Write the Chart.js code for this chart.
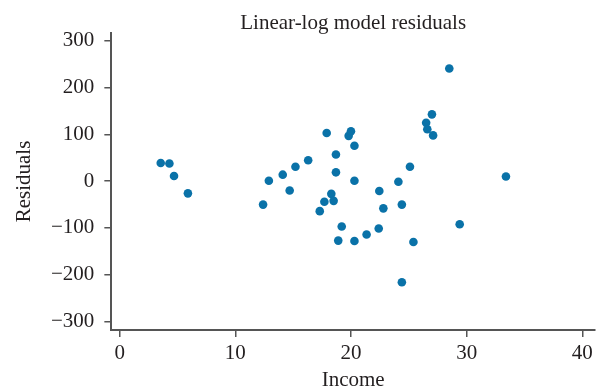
<!DOCTYPE html>
<html>
<head>
<meta charset="utf-8">
<script src="https://cdn.jsdelivr.net/npm/chart.js@4/dist/chart.umd.min.js"></script>
<style>
  html, body { margin: 0; padding: 0; background: #fff; }
  #wrap { width: 602px; height: 391px; }
</style>
</head>
<body>
<div id="wrap"><canvas id="residChart"></canvas></div>
<script>
// data
const income = [3.55, 4.3, 4.7, 5.9, 12.4, 12.9, 14.1, 14.7, 15.2, 16.3,
    17.3, 17.7, 17.9, 18.3, 18.5, 18.7, 18.7, 18.9, 19.2, 19.8,
    20.0, 20.3, 20.3, 20.3, 21.35, 22.4, 22.45, 22.8, 24.1, 24.4,
    24.4, 25.1, 25.4, 26.5, 26.6, 27.0, 27.1, 28.5, 29.4, 33.4];
const residuals = [39, 38, 11, -26, -50, 1, 14, -20, 31, 45,
    -64, -44, 103, -27, -42, 57, 19, -127, -97, 97,
    107, 76, 1, -128, -114, -101, -21, -58, -1, -50,
    -216, 31, -130, 125, 111, 143, 98, 241, -92, 10];
const xTicks = [0, 10, 20, 30, 40];
const yTicks = [-300, -200, -100, 0, 100, 200, 300];

const chartTitle = 'Linear-log model residuals';
const serif = "'Liberation Serif', 'DejaVu Serif', serif";
const inkColor = '#231f20';
const axisColor = '#555';

function fixTicks(values) {
    return function(axis) {
        axis.ticks = values.map(v => ({ value: v }));
    };
}

// real minus sign like the print original
function minusLabel(value) {
    return value < 0 ? '\u2212' + Math.abs(value) : String(value);
}

// title centred over the plot area rather than the whole canvas
const plotTitle = {
    id: 'plotTitle',
    afterDraw(chart) {
        const { ctx, chartArea } = chart;
        ctx.save();
        ctx.font = '21px ' + serif;
        ctx.fillStyle = inkColor;
        ctx.textAlign = 'center';
        ctx.textBaseline = 'alphabetic';
        ctx.fillText(chartTitle, (chartArea.left + chartArea.right) / 2, 29);
        ctx.restore();
    }
};

function initializeChart() {
    const points = income.map((x, i) => ({ x: x, y: residuals[i] }));
    const ctx = document.getElementById('residChart').getContext('2d');

    new Chart(ctx, {
        type: 'scatter',
        data: {
            datasets: [{
                data: points,
                backgroundColor: '#0a72a8',
                borderWidth: 0,
                pointRadius: 4.3,
                pointHoverRadius: 4.3
            }]
        },
        plugins: [plotTitle],
        options: {
            responsive: true,
            maintainAspectRatio: false,
            animation: false,
            layout: { padding: { left: 0, right: 7, top: 33, bottom: 0 } },
            plugins: {
                legend: { display: false },
                tooltip: { enabled: false },
                title: { display: false }
            },
            scales: {
                x: {
                    type: 'linear',
                    min: -0.72,
                    max: 41.1,
                    afterBuildTicks: fixTicks(xTicks),
                    border: { display: true, color: axisColor, width: 2 },
                    grid: { drawOnChartArea: false, color: axisColor, lineWidth: 1.5, tickLength: 7 },
                    ticks: { color: inkColor, font: { family: serif, size: 21, lineHeight: 1.1 }, padding: 5, callback: minusLabel },
                    title: {
                        display: true,
                        text: 'Income',
                        color: inkColor,
                        font: { family: serif, size: 21, lineHeight: 1 },
                        padding: { top: 0, bottom: 0 }
                    }
                },
                y: {
                    type: 'linear',
                    min: -318,
                    max: 317,
                    afterBuildTicks: fixTicks(yTicks),
                    border: { display: true, color: axisColor, width: 2 },
                    grid: { drawOnChartArea: false, color: axisColor, lineWidth: 1.5, tickLength: 7 },
                    ticks: { color: inkColor, font: { family: serif, size: 21 }, padding: 10, callback: minusLabel },
                    title: {
                        display: true,
                        text: 'Residuals',
                        color: inkColor,
                        font: { family: serif, size: 21, lineHeight: 1 },
                        padding: { top: 14, bottom: 6 }
                    }
                }
            }
        }
    });
}

document.addEventListener('DOMContentLoaded', initializeChart);
</script>
</body>
</html>
